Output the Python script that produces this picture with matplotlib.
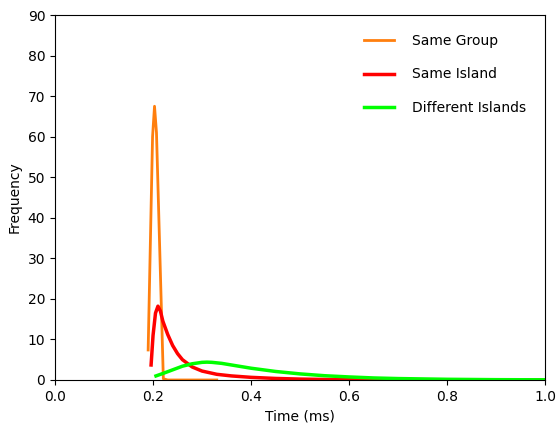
import matplotlib
matplotlib.use("Agg")
import matplotlib.pyplot as plt

group_x = [0.190, 0.199, 0.203, 0.207, 0.221, 0.23, 0.33]
group_y = [7.4, 60.0, 67.5, 61.0, 0.3, 0.0, 0.0]

island_x = [0.196, 0.200, 0.205, 0.210, 0.215, 0.22, 0.23, 0.24, 0.25, 0.26, 0.28, 0.30,
            0.33, 0.36, 0.40, 0.45, 0.50, 0.55, 0.60, 0.70, 0.80, 1.00]
island_y = [3.7, 11.0, 16.5, 18.2, 17.0, 14.5, 11.2, 8.5, 6.5, 5.0, 3.2, 2.2,
            1.4, 1.0, 0.65, 0.38, 0.22, 0.13, 0.08, 0.03, 0.01, 0.0]

diff_x = [0.206, 0.22, 0.24, 0.26, 0.28, 0.30, 0.31, 0.32, 0.34, 0.36, 0.38, 0.40,
          0.45, 0.50, 0.55, 0.60, 0.65, 0.70, 0.80, 0.90, 1.00]
diff_y = [1.0, 1.6, 2.5, 3.4, 4.0, 4.35, 4.4, 4.35, 4.1, 3.7, 3.3, 2.9,
          2.1, 1.5, 1.05, 0.75, 0.5, 0.35, 0.17, 0.08, 0.04]

fig = plt.figure(figsize=(5.58, 4.23), dpi=100)
ax = fig.add_axes([0.0986, 0.1017, 0.8784, 0.8628])
ax.plot(group_x, group_y, color="#ff7f0e", lw=2, label="Same Group")
ax.plot(island_x, island_y, color="#ff0000", lw=2.5, label="Same Island")
ax.plot(diff_x, diff_y, color="#00ff00", lw=2.5, label="Different Islands")
ax.set_xlim(0, 1.0)
ax.set_ylim(0, 90)
ax.set_xticks([0.0, 0.2, 0.4, 0.6, 0.8, 1.0])
ax.set_yticks(range(0, 91, 10))
ax.set_xlabel("Time (ms)")
ax.set_ylabel("Frequency")
ax.legend(loc="upper right", frameon=False, labelspacing=1.42, handlelength=2.2,
          handletextpad=1.3, borderaxespad=0.95)
fig.savefig("out.png", dpi=100)
